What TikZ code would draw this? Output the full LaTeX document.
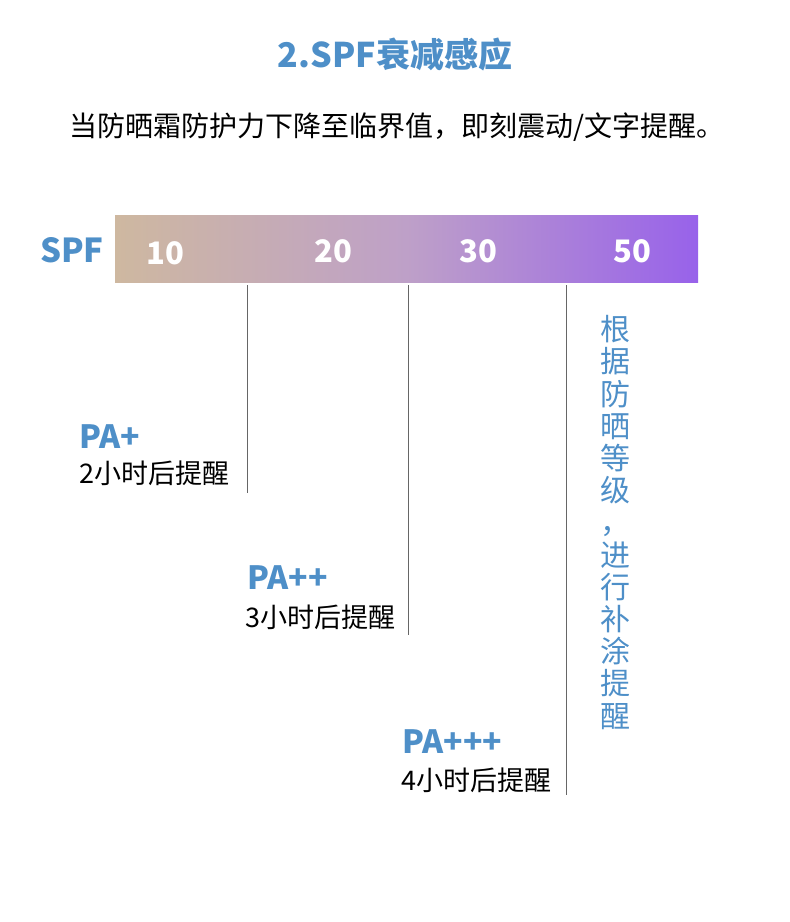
\documentclass[tikz,border=0pt]{standalone}
\usepackage{fontspec}
\setmainfont{Noto Sans CJK SC}
\begin{document}
\begin{tikzpicture}[x=1pt,y=-1pt,
  blue/.style={text=ttl,font=\fontsize{33}{35}\selectfont\bfseries},
  num/.style={text=white,font=\fontsize{31}{33}\selectfont\bfseries},
  pa/.style={text=ttl,anchor=west,font=\fontsize{32}{34}\selectfont\bfseries},
  hr/.style={anchor=west,font=\fontsize{27}{30}\selectfont},
  vline/.style={draw=gray!80!black,line width=0.8pt}]
\definecolor{ttl}{HTML}{4E8FC8}
\useasboundingbox (0,0) rectangle (790,922);
\fill[white] (0,0) rectangle (790,922);
\node[blue,font=\fontsize{34}{36}\selectfont\bfseries] (title) at (395,55) {2.SPF衰减感应};
\node[font=\fontsize{28}{32}\selectfont] (sub) at (397,127) {当防晒霜防护力下降至临界值，即刻震动/文字提醒。};
\shade[left color={rgb,255:red,206;green,184;blue,160},right color={rgb,255:red,152;green,98;blue,234},middle color={rgb,255:red,190;green,160;blue,200}] (115,215) rectangle (698,282);
\node[blue] (spf) at (72,250) {SPF};
\node[num] (n10) at (165,253) {10};
\node[num] (n20) at (333,251) {20};
\node[num] (n30) at (478,251) {30};
\node[num] (n50) at (632,251) {50};
\coordinate (a1) at (247,285); \coordinate (a2) at (247,493);
\coordinate (b1) at (408,285); \coordinate (b2) at (408,635);
\coordinate (c1) at (566,285); \coordinate (c2) at (566,795);
\draw[vline] (a1)--(a2); \draw[vline] (b1)--(b2); \draw[vline] (c1)--(c2);
\node[pa] (p1) at (76,437) {PA+};
\node[hr] (h1) at (76,473) {2小时后提醒};
\node[pa] (p2) at (244,578) {PA++};
\node[hr] (h2) at (242,617) {3小时后提醒};
\node[pa] (p3) at (399,742) {PA+++};
\node[hr] (h3) at (398,780) {4小时后提醒};
\node[text=ttl,font=\fontsize{30}{32.2}\selectfont,align=center,anchor=north] (v) at (615,312)
 {根\\据\\防\\晒\\等\\级\\\hbox to 30pt{，\hfil}\\进\\行\\补\\涂\\提\\醒};
\end{tikzpicture}
\end{document}
